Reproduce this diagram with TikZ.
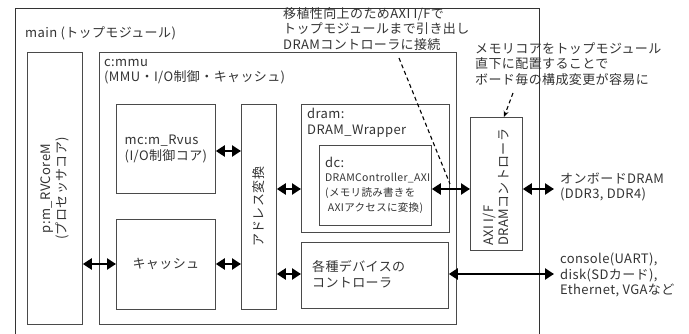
\documentclass[tikz,border=0pt]{standalone}
\usepackage{fontspec}
\setmainfont{Noto Sans CJK JP}[LetterSpace=3]
\usetikzlibrary{arrows.meta}
\definecolor{boxc}{HTML}{4A4A4A}
\definecolor{txtc}{HTML}{333333}
\tikzset{
  box/.style={draw=boxc, line width=0.8pt, inner sep=0pt, anchor=north west},
  txt/.style={text=txtc, inner sep=0pt, font=\fontsize{13}{15.5}\selectfont},
  small/.style={text=txtc, inner sep=0pt, font=\fontsize{10.5}{15}\selectfont},
  biarrow/.style={line width=2.3pt, {Triangle[length=9pt,width=11pt]}-{Triangle[length=9pt,width=11pt]}},
  note/.style={line width=1.1pt, dash pattern=on 4pt off 3pt}
}
\begin{document}
\begin{tikzpicture}[x=1pt,y=-1pt]
\useasboundingbox (0,0) rectangle (689,334);
% main module (extends beyond bottom)
\draw[line width=0.9pt, black!80] (15,340) -- (15,8) -- (539,8) -- (539,340);
\node[txt, anchor=west] (mainlbl) at (25,33) {main (トップモジュール)};
% processor
\node[box, minimum width=55pt, minimum height=272pt] (p) at (27,52) {};
\node[txt, rotate=90, align=center] (plbl) at (p.center) {p:m\_RVCoreM\\(プロセッサコア)};
% mmu
\node[box, minimum width=357pt, minimum height=272pt, line width=1pt] (mmu) at (99,52) {};
\node[txt, anchor=north west, align=left] (mmulbl) at (104,59) {c:mmu\\(MMU・I/O制御・キャッシュ)};
% mc
\node[box, minimum width=99pt, minimum height=89pt] (mc) at (116,104) {};
\node[txt, align=left] (mclbl) at (mc.center) {mc:m\_Rvus\\(I/O制御コア)};
% cache
\node[box, minimum width=99pt, minimum height=90pt] (cache) at (116,219) {};
\node[txt] (cachelbl) at (cache.center) {キャッシュ};
% address translation
\node[box, minimum width=35pt, minimum height=205pt] (addr) at (241,104) {};
\node[txt, rotate=90] (addrlbl) at (addr.center) {アドレス変換};
% dram wrapper
\node[box, minimum width=148pt, minimum height=128pt] (dram) at (301,104) {};
\node[txt, anchor=north west, align=left] (dramlbl) at (307,108) {dram:\\DRAM\_Wrapper};
% dc
\node[box, minimum width=112pt, minimum height=80pt] (dc) at (319,145) {};
\node[txt, anchor=north west] (dclbl) at (325,157) {dc:};
\node[small, anchor=north west, align=left] (dctxt) at (325,173) {DRAMController\_AXI\\(メモリ読み書きを\\\ AXIアクセスに変換)};
% devices
\node[box, minimum width=147pt, minimum height=66pt] (dev) at (301,242) {};
\node[txt, anchor=west, align=left] (devlbl) at (312,274) {各種デバイスの\\コントローラ};
% AXI I/F
\node[box, minimum width=52pt, minimum height=133pt] (axi) at (470,117) {};
\node[txt, rotate=90, anchor=west, align=left] (axilbl) at (496,246) {AXI I/F\\DRAMコントローラ};
% external
\node[txt, anchor=west, align=left] (ddr) at (560,187) {オンボードDRAM\\(DDR3, DDR4)};
\node[txt, anchor=west, align=left] (ext) at (560,275) {console(UART),\\disk(SDカード),\\Ethernet, VGAなど};
\coordinate (ddrpt) at (554,189);
\coordinate (extpt) at (554,274);
% connectors
\draw[biarrow] (p.east |- 0,264) -- (cache.west |- 0,264);
\draw[biarrow] (mc.east |- 0,151) -- (addr.west |- 0,151);
\draw[biarrow] (cache.east |- 0,264) -- (addr.west |- 0,264);
\draw[biarrow] (addr.east |- 0,189) -- (dram.west |- 0,189);
\draw[biarrow] (addr.east |- 0,274) -- (dev.west |- 0,274);
\draw[biarrow] (dc.east |- 0,189) -- (axi.west |- 0,189);
\draw[biarrow] (axi.east |- 0,189) -- (ddrpt);
\draw[biarrow] (dev.east |- 0,274) -- (extpt);
% notes
\node[txt, anchor=north west, align=left] (note1) at (283,7) {移植性向上のためAXI I/Fで\\トップモジュールまで引き出し\\DRAMコントローラに接続};
\node[txt, anchor=north west, align=left] (note2) at (475,42) {メモリコアをトップモジュール\\直下に配置することで\\ボード毎の構成変更が容易に};
\coordinate (n1end) at (450,184);
\draw[note] (399,58) -- (n1end);
\draw[note, -{Stealth[length=6pt,width=5pt]}] (513,93) -- (axi.north -| 504,0);
\end{tikzpicture}
\end{document}
